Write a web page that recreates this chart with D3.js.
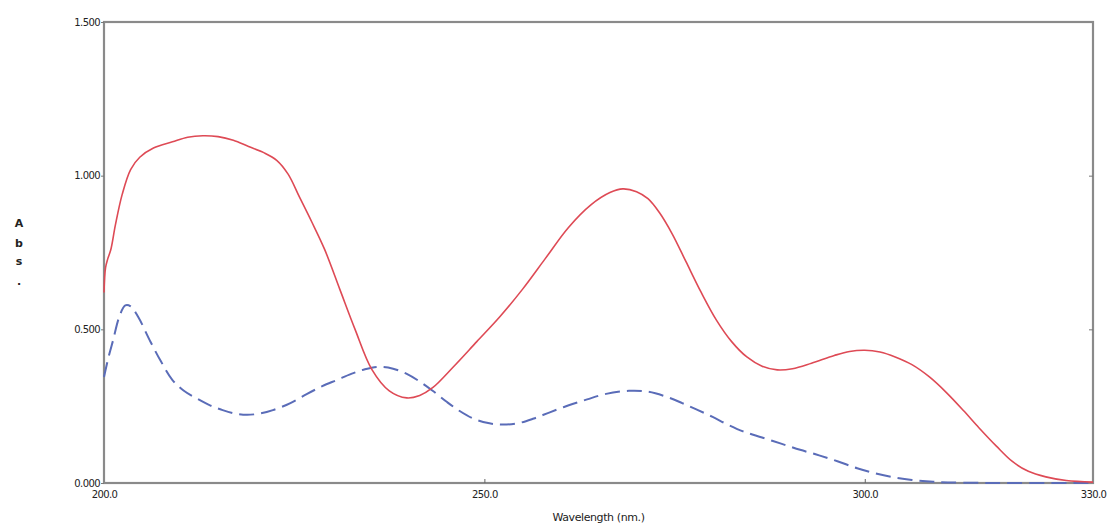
<!DOCTYPE html>
<html><head><meta charset="utf-8">
<script src="https://cdn.jsdelivr.net/npm/d3@7"></script>
<style>body{margin:0;background:#fff}text{font-family:"DejaVu Sans",sans-serif;fill:#222}</style>
</head><body><svg id="c" width="1112" height="527"></svg>
<script>
const xTicks = [200, 250, 300, 330];
const xTickLabels = ["200.0", "250.0", "300.0", "330.0"];
const yTicks = [0, 0.5, 1.0, 1.5];
const yTickLabels = ["0.000", "0.500", "1.000", "1.500"];

const redWl  = [200.0,200.2,200.5,200.9,201.5,202.4,203.5,204.7,206.5,209,211,213,215,217,219,221,222.7,224.2,225.7,227.3,229,231,233,235.2,237.5,239.8,241.5,243.2,246,249,252,255,258,261,264,266.5,268.2,270,271.5,273,274.7,276.5,278.5,280.5,282.5,284.5,286.5,288.5,290.5,293,296,298,300,302,304,306.2,308.5,310.7,313,315,317.3,319.4,321.5,323.8,326.5,330];
const redAbs = [0.62,0.70,0.73,0.76,0.84,0.94,1.02,1.06,1.09,1.11,1.125,1.13,1.127,1.115,1.095,1.075,1.05,1.005,0.93,0.85,0.76,0.63,0.50,0.37,0.30,0.277,0.285,0.31,0.38,0.46,0.54,0.63,0.73,0.83,0.905,0.945,0.957,0.948,0.925,0.88,0.81,0.72,0.62,0.53,0.46,0.41,0.38,0.368,0.372,0.39,0.415,0.428,0.432,0.426,0.41,0.385,0.345,0.295,0.235,0.18,0.12,0.07,0.038,0.02,0.008,0.003];

const blueWl  = [200.0,200.6,201.2,202,202.8,203.5,204.5,206,207.5,209,210.5,212.2,214,215.6,217.2,218.8,220.5,222.2,224.5,226.7,228.7,230.6,232.5,234.3,236.2,238,239.8,241.5,243.2,245,246.7,248.5,250.5,252.4,254.5,256.5,258.6,261,263.5,266,269,271.5,274,276,278,280,282,284,286.5,289,291.5,294,296.5,299,301,303.5,306.2,309,313,320,330];
const blueAbs = [0.345,0.41,0.465,0.54,0.578,0.575,0.54,0.465,0.395,0.335,0.30,0.275,0.252,0.237,0.226,0.222,0.226,0.237,0.26,0.29,0.315,0.335,0.355,0.37,0.378,0.372,0.355,0.33,0.30,0.265,0.235,0.21,0.195,0.19,0.195,0.21,0.23,0.252,0.272,0.29,0.30,0.297,0.28,0.26,0.238,0.215,0.19,0.168,0.148,0.128,0.108,0.09,0.07,0.048,0.034,0.02,0.01,0.004,0.001,0,0];

const svg = d3.select("#c");
const L = 104, R = 1093, T = 22, B = 483;
const x = d3.scaleLinear().domain([200, 330]).range([L, R]);
const y = d3.scaleLinear().domain([0, 1.5]).range([B, T]);

// frame
svg.append("rect").attr("x", L).attr("y", T).attr("width", R - L).attr("height", B - T)
  .attr("fill", "none").attr("stroke", "#8a8a8a").attr("stroke-width", 2.2);

// left axis (outer ticks)
const gl = svg.append("g").attr("transform", `translate(${L},0)`)
  .call(d3.axisLeft(y).tickValues(yTicks).tickFormat((d, i) => yTickLabels[i]).tickSize(3).tickPadding(1));
gl.select(".domain").remove();
gl.selectAll("line").attr("stroke", "#777");
gl.selectAll("text").style("font-size", "10px").style("letter-spacing", "-0.6px").attr("dy", "0.32em");

// right axis ticks inward
const gr = svg.append("g").attr("transform", `translate(${R},0)`)
  .call(d3.axisLeft(y).tickValues([0.5, 1.0]).tickFormat("").tickSize(4));
gr.select(".domain").remove();
gr.selectAll("line").attr("stroke", "#777");

// bottom axis: labels + inner ticks
const gb = svg.append("g").attr("transform", `translate(0,${B})`)
  .call(d3.axisBottom(x).tickValues(xTicks).tickFormat((d, i) => xTickLabels[i]).tickSize(0).tickPadding(8));
gb.select(".domain").remove();
gb.selectAll("text").style("font-size", "10px").style("letter-spacing", "-0.6px");
const gbi = svg.append("g").attr("transform", `translate(0,${B})`)
  .call(d3.axisTop(x).tickValues([250, 300]).tickFormat("").tickSize(4));
gbi.select(".domain").remove();
gbi.selectAll("line").attr("stroke", "#666");

// axis titles
svg.append("text").attr("x", (L + R) / 2).attr("y", 521).attr("text-anchor", "middle")
  .style("font-size", "11px").style("letter-spacing", "-0.4px").text("Wavelength (nm.)");
const yl = ["A", "b", "s", "."];
const ylY = [227, 247, 265, 285];
yl.forEach((c, i) => svg.append("text").attr("x", 19).attr("y", ylY[i]).attr("text-anchor", "middle")
  .style("font-size", "11px").style("font-weight", "bold").text(c));

const line = d3.line().x(d => x(d[0])).y(d => y(d[1])).curve(d3.curveCatmullRom.alpha(0.5));

svg.append("path").datum(blueWl.map((w, i) => [w, blueAbs[i]]))
  .attr("d", line).attr("fill", "none").attr("stroke", "#5a6cb8").attr("stroke-width", 2)
  .attr("stroke-dasharray", "15,7");
svg.append("path").datum(redWl.map((w, i) => [w, redAbs[i]]))
  .attr("d", line).attr("fill", "none").attr("stroke", "#de4a55").attr("stroke-width", 1.6);
</script></body></html>
